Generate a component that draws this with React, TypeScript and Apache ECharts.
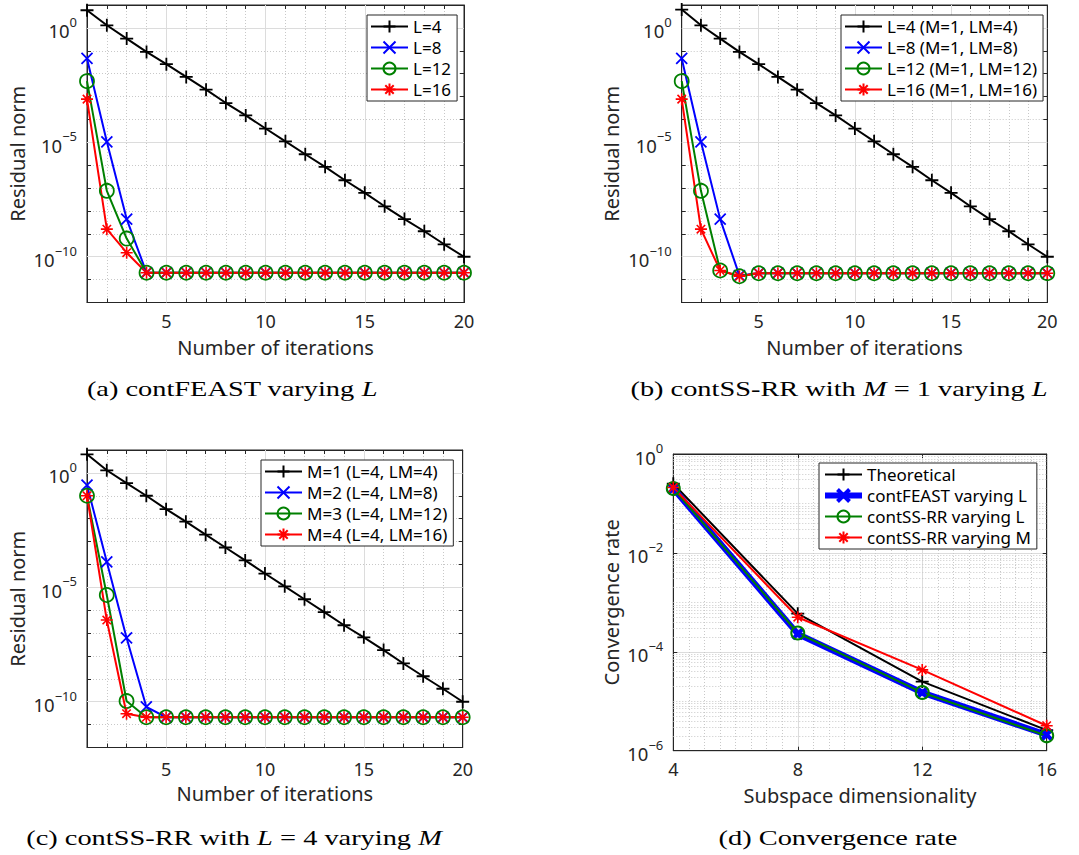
import React, { useEffect, useRef } from 'react';
import * as echarts from 'echarts';

// ---------------- data ----------------
const iterations = [1, 2, 3, 4, 5, 6, 7, 8, 9, 10, 11, 12, 13, 14, 15, 16, 17, 18, 19, 20];

// (a) contFEAST varying L
const aL4 = [5.9, 1.3, 0.34, 0.089, 0.026, 7.2e-3, 2.0e-3, 5.2e-4, 1.5e-4, 4.0e-5, 1.1e-5, 3.0e-6, 8.5e-7, 2.2e-7, 6.2e-8, 1.6e-8, 4.4e-9, 1.3e-9, 3.5e-10, 1.0e-10];
const aL8 = [4.6e-2, 1.05e-5, 4.4e-9, 2.0e-11, 2.0e-11, 2.0e-11, 2.0e-11, 2.0e-11, 2.0e-11, 2.0e-11, 2.0e-11, 2.0e-11, 2.0e-11, 2.0e-11, 2.0e-11, 2.0e-11, 2.0e-11, 2.0e-11, 2.0e-11, 2.0e-11];
const aL12 = [4.7e-3, 7.6e-8, 6.2e-10, 2.0e-11, 2.0e-11, 2.0e-11, 2.0e-11, 2.0e-11, 2.0e-11, 2.0e-11, 2.0e-11, 2.0e-11, 2.0e-11, 2.0e-11, 2.0e-11, 2.0e-11, 2.0e-11, 2.0e-11, 2.0e-11, 2.0e-11];
const aL16 = [7.7e-4, 1.6e-9, 1.5e-10, 2.0e-11, 2.0e-11, 2.0e-11, 2.0e-11, 2.0e-11, 2.0e-11, 2.0e-11, 2.0e-11, 2.0e-11, 2.0e-11, 2.0e-11, 2.0e-11, 2.0e-11, 2.0e-11, 2.0e-11, 2.0e-11, 2.0e-11];

// (b) contSS-RR with M = 1 varying L
const bL4 = [6.3, 1.3, 0.34, 0.089, 0.026, 7.2e-3, 2.0e-3, 5.2e-4, 1.5e-4, 4.0e-5, 1.1e-5, 3.0e-6, 8.5e-7, 2.2e-7, 6.2e-8, 1.6e-8, 4.4e-9, 1.3e-9, 3.5e-10, 1.0e-10];
const bL8 = [4.6e-2, 1.05e-5, 4.4e-9, 1.5e-11, 1.9e-11, 1.9e-11, 1.9e-11, 1.9e-11, 1.9e-11, 1.9e-11, 1.9e-11, 1.9e-11, 1.9e-11, 1.9e-11, 1.9e-11, 1.9e-11, 1.9e-11, 1.9e-11, 1.9e-11, 1.9e-11];
const bL12 = [4.7e-3, 7.6e-8, 2.5e-11, 1.4e-11, 1.9e-11, 1.9e-11, 1.9e-11, 1.9e-11, 1.9e-11, 1.9e-11, 1.9e-11, 1.9e-11, 1.9e-11, 1.9e-11, 1.9e-11, 1.9e-11, 1.9e-11, 1.9e-11, 1.9e-11, 1.9e-11];
const bL16 = [7.7e-4, 1.6e-9, 2.5e-11, 1.4e-11, 1.9e-11, 1.9e-11, 1.9e-11, 1.9e-11, 1.9e-11, 1.9e-11, 1.9e-11, 1.9e-11, 1.9e-11, 1.9e-11, 1.9e-11, 1.9e-11, 1.9e-11, 1.9e-11, 1.9e-11, 1.9e-11];

// (c) contSS-RR with L = 4 varying M
const cM1 = [6.5, 1.3, 0.36, 0.1, 0.026, 7.4e-3, 2.0e-3, 5.5e-4, 1.5e-4, 4.0e-5, 1.1e-5, 3.0e-6, 8.3e-7, 2.2e-7, 6.5e-8, 1.8e-8, 4.7e-9, 1.3e-9, 3.7e-10, 1.0e-10];
const cM2 = [0.29, 1.3e-4, 6.2e-8, 6.0e-11, 2.1e-11, 2.1e-11, 2.1e-11, 2.1e-11, 2.1e-11, 2.1e-11, 2.1e-11, 2.1e-11, 2.1e-11, 2.1e-11, 2.1e-11, 2.1e-11, 2.1e-11, 2.1e-11, 2.1e-11, 2.1e-11];
const cM3 = [0.1, 4.6e-6, 1.07e-10, 2.1e-11, 2.1e-11, 2.1e-11, 2.1e-11, 2.1e-11, 2.1e-11, 2.1e-11, 2.1e-11, 2.1e-11, 2.1e-11, 2.1e-11, 2.1e-11, 2.1e-11, 2.1e-11, 2.1e-11, 2.1e-11, 2.1e-11];
const cM4 = [0.1, 3.7e-7, 3.0e-11, 2.1e-11, 2.1e-11, 2.1e-11, 2.1e-11, 2.1e-11, 2.1e-11, 2.1e-11, 2.1e-11, 2.1e-11, 2.1e-11, 2.1e-11, 2.1e-11, 2.1e-11, 2.1e-11, 2.1e-11, 2.1e-11, 2.1e-11];

// (d) Convergence rate
const dims = [4, 8, 12, 16];
const dTheoretical = [0.25, 5.9e-4, 2.5e-5, 2.6e-6];
const dFeast = [0.2, 2.3e-4, 1.5e-5, 2.1e-6];
const dSSL = [0.2, 2.4e-4, 1.5e-5, 2.0e-6];
const dSSM = [0.21, 5.0e-4, 4.3e-5, 3.2e-6];

// names / tick labels
const namesA = ['L=4', 'L=8', 'L=12', 'L=16'];
const namesB = ['L=4 (M=1, LM=4)', 'L=8 (M=1, LM=8)', 'L=12 (M=1, LM=12)', 'L=16 (M=1, LM=16)'];
const namesC = ['M=1 (L=4, LM=4)', 'M=2 (L=4, LM=8)', 'M=3 (L=4, LM=12)', 'M=4 (L=4, LM=16)'];
const namesD = ['Theoretical', 'contFEAST varying L', 'contSS-RR varying L', 'contSS-RR varying M'];
const iterTickLabels = [5, 10, 15, 20];
const residualExpTicks = [0, -5, -10];

// ---------------- styling ----------------
const SANS = 'Noto Sans';
const SERIF = 'Liberation Serif';
const AX = '#262626';
const MAJOR = '#dcdcdc';
const MINOR = '#c8c8c8';
const BLACK = '#000000';
const BLUE = '#0000ff';
const GREEN = '#008000';
const RED = '#ff0000';

const PLUS = 'path://M10,0L10,20M0,10L20,10';
const CROSS = 'path://M0,0L20,20M0,20L20,0';
const STAR = 'path://M10,0L10,20M0,10L20,10M3,3L17,17M3,17L17,3';

const GRIDS = [
  { left: 87, top: 5, width: 377, height: 297.5 },
  { left: 681.7, top: 5, width: 365.6, height: 297.5 },
  { left: 87, top: 450, width: 375.7, height: 297.5 },
  { left: 673.3, top: 454, width: 373.4, height: 296.7 },
];

const expLabel = (v: number) => {
  const n = Math.round(v);
  return `{b|10}{e|${n < 0 ? '\u2212' + -n : n}}`;
};

const richExp = {
  b: { fontSize: 18.5, fontFamily: SANS, color: AX, lineHeight: 25, verticalAlign: 'bottom' },
  e: { fontSize: 13, fontFamily: SANS, color: AX, verticalAlign: 'top' },
};

function lineSeries(
  name: string,
  panel: number,
  xs: number[],
  ys: number[],
  color: string,
  symbol: string,
  size: number,
  lw: number,
  bw: number,
  hollow = false,
) {
  return {
    type: 'line',
    name,
    xAxisIndex: panel * 2,
    yAxisIndex: panel * 2,
    data: xs.map((x, k) => [x, Math.log10(ys[k])]),
    symbol,
    symbolSize: size,
    showSymbol: true,
    clip: false,
    silent: true,
    emphasis: { disabled: true },
    lineStyle: { color, width: lw },
    itemStyle: { color: hollow ? 'rgba(0,0,0,0)' : color, borderColor: color, borderWidth: bw },
  };
}

function axesFor(panel: number) {
  const isD = panel === 3;
  const xMain: any = {
    gridIndex: panel,
    type: 'value',
    position: 'bottom',
    min: isD ? 4 : 1,
    max: isD ? 16 : 20,
    interval: isD ? 4 : 1,
    axisLine: { show: true, onZero: false, lineStyle: { color: AX, width: 1 } },
    axisTick: { show: true, inside: true, length: 4, lineStyle: { color: AX } },
    axisLabel: {
      show: true,
      margin: panel === 2 ? 12 : panel === 3 ? 9 : 9,
      fontSize: 18,
      fontFamily: SANS,
      color: AX,
      formatter: (v: number) => (isD || iterTickLabels.includes(Math.round(v)) ? String(Math.round(v)) : ''),
    },
    splitLine: {
      show: true,
      lineStyle: isD ? { color: MAJOR, width: 1, type: 'solid' } : { color: MINOR, width: 1, type: [1, 2] },
    },
    minorSplitLine: isD
      ? { show: true, splitNumber: 8, lineStyle: { color: MINOR, width: 1, type: [1, 2] } }
      : { show: false },
    minorTick: isD ? { show: false, splitNumber: 8 } : { show: false },
    name: isD ? 'Subspace dimensionality' : 'Number of iterations',
    nameLocation: 'middle',
    nameGap: panel === 2 ? 36 : 35,
    nameTextStyle: { fontSize: 20, fontFamily: SANS, color: AX },
  };
  const xTop: any = {
    gridIndex: panel,
    type: 'value',
    position: 'top',
    min: xMain.min,
    max: xMain.max,
    interval: xMain.interval,
    axisLine: { show: true, onZero: false, lineStyle: { color: AX, width: 1 } },
    axisTick: { show: true, inside: true, length: 4, lineStyle: { color: AX } },
    axisLabel: { show: false },
    splitLine: { show: false },
  };
  const yMain: any = {
    gridIndex: panel,
    type: 'value',
    position: 'left',
    min: isD ? -6 : -12,
    max: isD ? 0 : 1,
    interval: isD ? 2 : 1,
    axisLine: { show: true, onZero: false, lineStyle: { color: AX, width: 1 } },
    axisTick: { show: true, inside: true, length: 4, lineStyle: { color: AX } },
    axisLabel: {
      show: true,
      margin: 10,
      formatter: (v: number) => (isD || residualExpTicks.includes(Math.round(v)) ? expLabel(v) : ''),
      rich: richExp,
    },
    splitLine: {
      show: true,
      lineStyle: isD ? { color: MAJOR, width: 1, type: 'solid' } : { color: MINOR, width: 1, type: [1, 2] },
    },
    name: isD ? 'Convergence rate' : 'Residual norm',
    nameLocation: 'middle',
    nameGap: isD ? 52 : 60,
    nameTextStyle: { fontSize: 20, fontFamily: SANS, color: AX },
  };
  const yRight: any = {
    gridIndex: panel,
    type: 'value',
    position: 'right',
    min: yMain.min,
    max: yMain.max,
    interval: yMain.interval,
    axisLine: { show: true, onZero: false, lineStyle: { color: AX, width: 1 } },
    axisTick: { show: true, inside: true, length: 4, lineStyle: { color: AX } },
    axisLabel: { show: false },
    splitLine: { show: false },
  };
  return { x: [xMain, xTop], y: [yMain, yRight] };
}

// gridline overlays (solid major lines for panels a-c, dotted log minor lines for d)
function majorGridMarkLine() {
  return {
    silent: true,
    z: 1,
    symbol: ['none', 'none'],
    label: { show: false },
    emphasis: { disabled: true },
    lineStyle: { color: MAJOR, width: 1, type: 'solid' },
    data: [
      ...iterTickLabels.filter((v) => v < 20).map((v) => ({ xAxis: v })),
      ...residualExpTicks.map((v) => ({ yAxis: v })),
    ],
  };
}

function logMinorMarkLine() {
  const data: any[] = [];
  for (let n = -6; n < 0; n++) {
    for (let k = 1; k <= 9; k++) {
      if (k === 1 && n % 2 === 0) continue;
      data.push({ yAxis: n + Math.log10(k) });
    }
  }
  return {
    silent: true,
    z: 1,
    symbol: ['none', 'none'],
    label: { show: false },
    emphasis: { disabled: true },
    lineStyle: { color: MINOR, width: 1, type: [1, 2] },
    data,
  };
}

function legendFor(names: any[], left: number, top: number) {
  return {
    data: names,
    left,
    top,
    orient: 'vertical',
    itemWidth: 37,
    itemHeight: 15,
    itemGap: 4,
    padding: [3, 6, 3, 3],
    backgroundColor: '#ffffff',
    borderColor: AX,
    borderWidth: 1,
    borderRadius: 0,
    selectedMode: false,
    textStyle: { fontSize: 17, fontFamily: SANS, color: '#000' },
  };
}

function caption(x: number, y: number, text: string) {
  return {
    type: 'text',
    x,
    y,
    scaleX: 1.29,
    silent: true,
    style: {
      text,
      fontFamily: SERIF,
      fontSize: 22,
      fill: '#000',
      align: 'center',
      verticalAlign: 'middle',
      rich: {
        i: { fontFamily: SERIF, fontSize: 22, fontStyle: 'italic', fill: '#000' },
      },
    },
  };
}

function buildOption() {
  const axes = [0, 1, 2, 3].map(axesFor);
  const xAxis = axes.flatMap((a) => a.x);
  const yAxis = axes.flatMap((a) => a.y);

  const sA = [
    lineSeries(namesA[0], 0, iterations, aL4, BLACK, PLUS, 13, 2, 1.8),
    lineSeries(namesA[1], 0, iterations, aL8, BLUE, CROSS, 11, 2, 1.8),
    lineSeries(namesA[2], 0, iterations, aL12, GREEN, 'circle', 14, 2, 1.8, true),
    lineSeries(namesA[3], 0, iterations, aL16, RED, STAR, 12, 2, 1.6),
  ];
  const sB = [
    lineSeries(namesB[0], 1, iterations, bL4, BLACK, PLUS, 13, 2, 1.8),
    lineSeries(namesB[1], 1, iterations, bL8, BLUE, CROSS, 11, 2, 1.8),
    lineSeries(namesB[2], 1, iterations, bL12, GREEN, 'circle', 14, 2, 1.8, true),
    lineSeries(namesB[3], 1, iterations, bL16, RED, STAR, 12, 2, 1.6),
  ];
  const sC = [
    lineSeries(namesC[0], 2, iterations, cM1, BLACK, PLUS, 13, 2, 1.8),
    lineSeries(namesC[1], 2, iterations, cM2, BLUE, CROSS, 11, 2, 1.8),
    lineSeries(namesC[2], 2, iterations, cM3, GREEN, 'circle', 14, 2, 1.8, true),
    lineSeries(namesC[3], 2, iterations, cM4, RED, STAR, 12, 2, 1.6),
  ];
  const sD = [
    lineSeries(namesD[0], 3, dims, dTheoretical, BLACK, PLUS, 13, 2, 1.8),
    lineSeries(namesD[1], 3, dims, dFeast, BLUE, CROSS, 10, 6, 4),
    lineSeries(namesD[2], 3, dims, dSSL, GREEN, 'circle', 13, 2, 2, true),
    lineSeries(namesD[3], 3, dims, dSSM, RED, STAR, 12, 2, 1.6),
  ];
  (sA[0] as any).markLine = majorGridMarkLine();
  (sB[0] as any).markLine = majorGridMarkLine();
  (sC[0] as any).markLine = majorGridMarkLine();
  (sD[0] as any).markLine = logMinorMarkLine();

  const legendDData = namesD.map((n, k) =>
    k === 1 ? { name: n, lineStyle: { width: 6 }, itemStyle: { borderWidth: 4 } } : { name: n },
  );

  return {
    animation: false,
    backgroundColor: '#ffffff',
    grid: GRIDS.map((g) => ({ ...g, show: true, borderColor: AX, borderWidth: 1, backgroundColor: 'transparent' })),
    xAxis,
    yAxis,
    legend: [
      legendFor(namesA, 367, 15),
      legendFor(namesB, 841, 15),
      legendFor(namesC, 261, 460),
      legendFor(legendDData, 819, 463),
    ],
    series: [...sA, ...sB, ...sC, ...sD],
    graphic: [
      caption(232, 388, '(a) contFEAST varying {i|L}'),
      caption(839, 388, '(b) contSS-RR with {i|M} = 1 varying {i|L}'),
      caption(234, 837, '(c) contSS-RR with {i|L} = 4 varying {i|M}'),
      caption(838, 837, '(d) Convergence rate'),
    ],
  };
}

export default function App() {
  const ref = useRef<HTMLDivElement>(null);
  useEffect(() => {
    if (!ref.current) return;
    const chart = echarts.init(ref.current, null, { renderer: 'svg' });
    chart.setOption(buildOption() as any);
    return () => chart.dispose();
  }, []);
  return (
    <div
      ref={ref}
      style={{ position: 'absolute', left: 0, top: 0, width: 1079, height: 855, background: '#ffffff' }}
    />
  );
}
